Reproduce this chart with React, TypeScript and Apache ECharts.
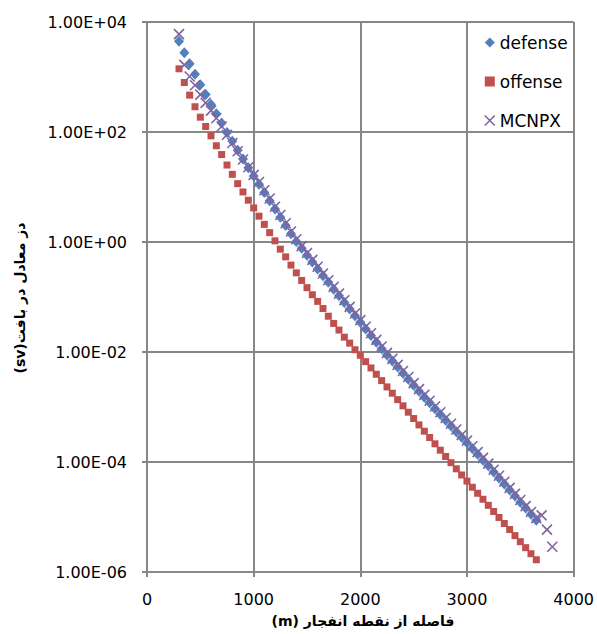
import React, { useEffect, useRef } from "react";
import * as echarts from "echarts";

const distance = [
  300, 350, 400, 450, 500, 550, 600, 650, 700, 750,
  800, 850, 900, 950, 1000, 1050, 1100, 1150, 1200, 1250,
  1300, 1350, 1400, 1450, 1500, 1550, 1600, 1650, 1700, 1750,
  1800, 1850, 1900, 1950, 2000, 2050, 2100, 2150, 2200, 2250,
  2300, 2350, 2400, 2450, 2500, 2550, 2600, 2650, 2700, 2750,
  2800, 2850, 2900, 2950, 3000, 3050, 3100, 3150, 3200, 3250,
  3300, 3350, 3400, 3450, 3500, 3550, 3600, 3650,
];

const defense = [
  4470, 2750, 1740, 1120, 724, 479, 316, 214, 145, 97.7,
  67.6, 46.8, 32.4, 22.4, 15.8, 11.2, 7.94, 5.62, 3.98, 2.82,
  2.0, 1.41, 1.02, 0.767, 0.575, 0.431, 0.324, 0.244, 0.185, 0.139,
  0.105, 0.0794, 0.0603, 0.0457, 0.0347, 0.0263, 0.02, 0.0151, 0.0115, 0.00881,
  0.00684, 0.00531, 0.00412, 0.0032, 0.00248, 0.00193, 0.00151, 0.00119, 9.33e-4, 7.33e-4,
  5.75e-4, 4.52e-4, 3.55e-4, 2.82e-4, 2.24e-4, 1.76e-4, 1.38e-4, 1.08e-4, 8.51e-5, 6.61e-5,
  5.13e-5, 3.98e-5, 3.09e-5, 2.4e-5, 1.86e-5, 1.45e-5, 1.12e-5, 8.71e-6,
];

const offense = [
  1410, 794, 468, 288, 186, 126, 85.1, 56.2, 38.9, 25.1,
  17.0, 11.5, 8.13, 5.75, 4.17, 2.95, 2.09, 1.48, 1.05, 0.741,
  0.537, 0.38, 0.275, 0.2, 0.148, 0.11, 0.0832, 0.0617, 0.0447, 0.0331,
  0.0251, 0.0186, 0.0145, 0.011, 0.00871, 0.00668, 0.00513, 0.00394, 0.00302, 0.00232,
  0.00178, 0.00136, 0.00105, 8.04e-4, 6.17e-4, 4.73e-4, 3.63e-4, 2.79e-4, 2.14e-4, 1.64e-4,
  1.26e-4, 9.72e-5, 7.52e-5, 5.81e-5, 4.49e-5, 3.48e-5, 2.7e-5, 2.1e-5, 1.63e-5, 1.26e-5,
  9.82e-6, 7.62e-6, 5.92e-6, 4.59e-6, 3.56e-6, 2.77e-6, 2.15e-6, 1.67e-6,
];

const mcnpxDistance = [
  300, 350, 400, 450, 500, 550, 600, 650, 700, 750,
  800, 850, 900, 950, 1000, 1050, 1100, 1150, 1200, 1250,
  1300, 1350, 1400, 1450, 1500, 1550, 1600, 1650, 1700, 1750,
  1800, 1850, 1900, 1950, 2000, 2050, 2100, 2150, 2200, 2250,
  2300, 2350, 2400, 2450, 2500, 2550, 2600, 2650, 2700, 2750,
  2800, 2850, 2900, 2950, 3000, 3050, 3100, 3150, 3200, 3250,
  3300, 3350, 3400, 3450, 3500, 3550, 3600, 3650, 3700, 3750,
  3800,
];

const mcnpx = [
  6030, 1660, 1020, 708, 479, 339, 245, 178, 126, 89.1,
  63.1, 44.7, 31.6, 22.9, 16.6, 12.3, 8.71, 6.17, 4.37, 3.09,
  2.19, 1.55, 1.12, 0.841, 0.631, 0.473, 0.355, 0.268, 0.202, 0.153,
  0.115, 0.0871, 0.0661, 0.0501, 0.038, 0.0288, 0.0219, 0.0166, 0.0126, 0.00966,
  0.0075, 0.00582, 0.00452, 0.00351, 0.00272, 0.00211, 0.00166, 0.0013, 0.00102, 8.04e-4,
  6.31e-4, 4.95e-4, 3.89e-4, 3.09e-4, 2.45e-4, 1.93e-4, 1.51e-4, 1.19e-4, 9.33e-5, 7.24e-5,
  5.62e-5, 4.37e-5, 3.39e-5, 2.63e-5, 2.04e-5, 1.58e-5, 1.23e-5, 9.55e-6, 1.07e-5, 5.89e-6,
  2.88e-6,
];

const seriesNames = ["defense", "offense", "MCNPX"];
const xTitle = "(m) فاصله از نقطه انفجار";
const yTitle = "(sv)دز معادل در بافت";

const BLUE = "#4F81BD";
const RED = "#C0504D";
const PURPLE = "#8064A2";
const GRID = "#878787";
const FONT = "DejaVu Sans";
const XPATH = "path://M0,0L10,10M10,0L0,10";

function sciLabel(v: number): string {
  const e = Math.round(Math.log10(v));
  const sign = e >= 0 ? "+" : "-";
  const abs = Math.abs(e);
  return "1.00E" + sign + (abs < 10 ? "0" + abs : String(abs));
}

export default function App() {
  const ref = useRef<HTMLDivElement>(null);
  useEffect(() => {
    document.body.style.margin = "0";
    const chart = echarts.init(ref.current!, null, { renderer: "svg" });
    chart.setOption({
      animation: false,
      backgroundColor: "#ffffff",
      grid: { left: 147, top: 22, right: 22, bottom: 62, containLabel: false },
      xAxis: {
        type: "value",
        min: 0,
        max: 4000,
        interval: 1000,
        axisLine: { show: true, lineStyle: { color: GRID, width: 2 } },
        axisTick: { show: true, length: 5, lineStyle: { color: GRID, width: 2 } },
        splitLine: { show: true, lineStyle: { color: GRID, width: 2 } },
        axisLabel: {
          color: "#000",
          fontFamily: FONT,
          fontSize: 16,
          margin: 19,
          formatter: (v: number) => String(v),
        },
      },
      yAxis: {
        type: "log",
        logBase: 10,
        min: 1e-6,
        max: 1e4,
        interval: 2,
        axisLine: { show: true, lineStyle: { color: GRID, width: 2 } },
        axisTick: { show: true, length: 5, lineStyle: { color: GRID, width: 2 } },
        splitLine: { show: true, lineStyle: { color: GRID, width: 2 } },
        minorTick: { show: false },
        minorSplitLine: { show: false },
        axisLabel: {
          color: "#000",
          fontFamily: FONT,
          fontSize: 16,
          margin: 20,
          formatter: (v: number) => sciLabel(v),
        },
      },
      legend: {
        orient: "vertical",
        left: 479,
        top: 29,
        itemWidth: 10,
        itemHeight: 10,
        itemGap: 22,
        textStyle: { color: "#000", fontFamily: FONT, fontSize: 17, lineHeight: 17 },
        data: [
          { name: seriesNames[0], icon: "diamond" },
          { name: seriesNames[1], icon: "rect" },
          {
            name: seriesNames[2],
            icon: XPATH,
            itemStyle: { color: "rgba(0,0,0,0)", borderColor: PURPLE, borderWidth: 1.6 },
          },
        ],
      },
      series: [
        {
          name: seriesNames[0],
          type: "scatter",
          symbol: "diamond",
          symbolSize: [10, 11],
          itemStyle: { color: BLUE, opacity: 1 },
          data: distance.map((d, i) => [d, defense[i]]),
          z: 2,
        },
        {
          name: seriesNames[1],
          type: "scatter",
          symbol: "rect",
          symbolSize: 7,
          itemStyle: { color: RED, opacity: 1 },
          data: distance.map((d, i) => [d, offense[i]]),
          z: 3,
        },
        {
          name: seriesNames[2],
          type: "scatter",
          symbol: XPATH,
          symbolSize: 10,
          itemStyle: { color: "rgba(0,0,0,0)", borderColor: PURPLE, borderWidth: 1.6, opacity: 1 },
          data: mcnpxDistance.map((d, i) => [d, mcnpx[i]]),
          z: 4,
        },
      ],
      graphic: [
        {
          type: "text",
          x: 363,
          y: 621,
          style: {
            text: xTitle,
            font: "bold 14px 'DejaVu Sans'",
            fill: "#000",
            align: "center",
            verticalAlign: "middle",
          },
        },
        {
          type: "text",
          x: 20,
          y: 298,
          rotation: Math.PI / 2,
          style: {
            text: yTitle,
            font: "bold 14px 'DejaVu Sans'",
            fill: "#000",
            align: "center",
            verticalAlign: "middle",
          },
        },
      ],
    });
    return () => chart.dispose();
  }, []);
  return <div ref={ref} style={{ width: 597, height: 634 }} />;
}
